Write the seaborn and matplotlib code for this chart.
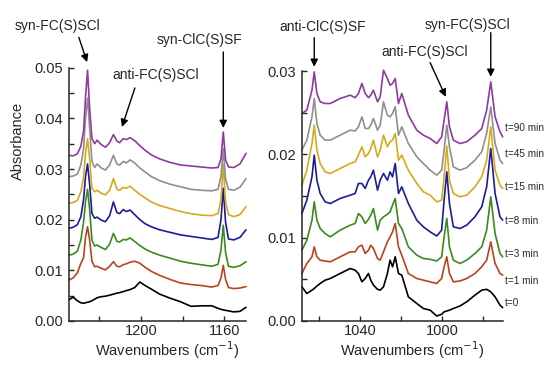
import numpy as np
import pandas as pd
import seaborn as sns
import matplotlib.pyplot as plt
from matplotlib.ticker import MultipleLocator, FormatStrFormatter

sns.set_style("ticks")
plt.rcParams['font.family'] = ['Liberation Sans', 'DejaVu Sans']

# time labels and colours (t=0 drawn first, t=90 on top)
times = ['t=0', 't=1 min', 't=3 min', 't=8 min', 't=15 min', 't=45 min', 't=90 min']
colors = ['#000000', '#b8441e', '#3a8a1f', '#1c1c9a', '#d6aa1e', '#8f8f8f', '#8e3aa0']

# ---- left panel: 1235 - 1150 cm-1
wn_left = [1234.5, 1232.5, 1230.5, 1228.8, 1227.5, 1226.6, 1225.6, 1224.6, 1223.5, 1222.2,
           1221.0, 1219.0, 1217.0, 1215.0, 1213.2, 1211.5, 1210.2, 1208.5, 1207.0, 1205.2,
           1203.0, 1200.5, 1198.0, 1195.0, 1191.0, 1186.0, 1181.0, 1176.0, 1171.0, 1166.0,
           1163.0, 1161.6, 1160.5, 1159.4, 1158.0, 1155.5, 1152.5, 1149.6]

left_t0 = [0.0042, 0.0047, 0.0040, 0.0036, 0.0035, 0.0036, 0.0037, 0.0038, 0.0040, 0.0043,
           0.0046, 0.0048, 0.0049, 0.0051, 0.0053, 0.0055, 0.0056, 0.0058, 0.0060, 0.0062,
           0.0066, 0.0077, 0.0070, 0.0063, 0.0053, 0.0045, 0.0038, 0.0029, 0.0030, 0.0030,
           0.0025, 0.0023, 0.0022, 0.0021, 0.0020, 0.0018, 0.0019, 0.0027]
left_t1 = [0.0081, 0.0085, 0.0095, 0.0114, 0.0125, 0.0165, 0.0186, 0.0160, 0.0118, 0.0107,
           0.0108, 0.0104, 0.0101, 0.0108, 0.0117, 0.0108, 0.0107, 0.0111, 0.0113, 0.0116,
           0.0118, 0.0114, 0.0106, 0.0098, 0.0090, 0.0082, 0.0075, 0.0072, 0.0070, 0.0067,
           0.0070, 0.0085, 0.0110, 0.0082, 0.0066, 0.0064, 0.0065, 0.0068]
left_t3 = [0.0130, 0.0132, 0.0138, 0.0160, 0.0195, 0.0235, 0.0260, 0.0220, 0.0160, 0.0148,
           0.0150, 0.0145, 0.0141, 0.0152, 0.0173, 0.0157, 0.0156, 0.0161, 0.0160, 0.0164,
           0.0157, 0.0149, 0.0142, 0.0136, 0.0130, 0.0124, 0.0118, 0.0114, 0.0111, 0.0108,
           0.0112, 0.0140, 0.0189, 0.0135, 0.0108, 0.0106, 0.0109, 0.0117]
left_t8 = [0.0183, 0.0185, 0.0190, 0.0206, 0.0240, 0.0285, 0.0310, 0.0270, 0.0212, 0.0203,
           0.0205, 0.0199, 0.0196, 0.0208, 0.0235, 0.0214, 0.0212, 0.0220, 0.0216, 0.0219,
           0.0210, 0.0200, 0.0192, 0.0186, 0.0180, 0.0175, 0.0170, 0.0167, 0.0164, 0.0161,
           0.0165, 0.0200, 0.0262, 0.0195, 0.0162, 0.0160, 0.0165, 0.0180]
left_t15 = [0.0232, 0.0234, 0.0238, 0.0255, 0.0285, 0.0330, 0.0360, 0.0320, 0.0262, 0.0255,
            0.0258, 0.0252, 0.0249, 0.0258, 0.0281, 0.0260, 0.0258, 0.0264, 0.0262, 0.0266,
            0.0258, 0.0250, 0.0243, 0.0235, 0.0228, 0.0222, 0.0216, 0.0212, 0.0209, 0.0208,
            0.0212, 0.0240, 0.0310, 0.0235, 0.0210, 0.0206, 0.0210, 0.0226]
left_t45 = [0.0285, 0.0286, 0.0290, 0.0308, 0.0340, 0.0400, 0.0440, 0.0380, 0.0315, 0.0303,
            0.0310, 0.0302, 0.0298, 0.0308, 0.0327, 0.0310, 0.0308, 0.0315, 0.0312, 0.0318,
            0.0312, 0.0302, 0.0294, 0.0285, 0.0277, 0.0270, 0.0265, 0.0260, 0.0258, 0.0257,
            0.0260, 0.0285, 0.0340, 0.0280, 0.0260, 0.0258, 0.0264, 0.0281]
left_t90 = [0.0327, 0.0326, 0.0330, 0.0345, 0.0375, 0.0440, 0.0495, 0.0420, 0.0360, 0.0350,
            0.0357, 0.0348, 0.0343, 0.0352, 0.0368, 0.0355, 0.0352, 0.0360, 0.0358, 0.0362,
            0.0356, 0.0346, 0.0337, 0.0328, 0.0320, 0.0313, 0.0308, 0.0306, 0.0304, 0.0302,
            0.0303, 0.0320, 0.0373, 0.0318, 0.0304, 0.0303, 0.0310, 0.0331]

# ---- right panel: 1068 - 970 cm-1
wn_right = [1068.2, 1065.8, 1063.3, 1062.2, 1060.9, 1059.3, 1056.9, 1054.4, 1049.6, 1044.7,
            1042.3, 1040.7, 1039.0, 1037.4, 1035.8, 1034.7, 1033.4, 1031.4, 1030.1, 1028.5,
            1026.6, 1025.3, 1024.1, 1022.8, 1021.2, 1019.6, 1016.4, 1012.3, 1009.1, 1005.8,
            1002.6, 1000.2, 999.0, 997.7, 996.4, 994.5, 991.3, 988.0, 984.0, 980.7,
            978.3, 976.3, 974.2, 971.8, 970.5]

right_t0 = [0.0041, 0.0033, 0.0037, 0.0039, 0.0042, 0.0045, 0.0049, 0.0051, 0.0057, 0.0063,
            0.0061, 0.0057, 0.0047, 0.0051, 0.0057, 0.0049, 0.0043, 0.0038, 0.0037, 0.0041,
            0.0057, 0.0073, 0.0065, 0.0077, 0.0057, 0.0055, 0.0029, 0.0021, 0.0015, 0.0013,
            0.0006, 0.0008, 0.0011, 0.0012, 0.0013, 0.0015, 0.0018, 0.0023, 0.0031, 0.0037,
            0.0038, 0.0035, 0.0029, 0.0019, 0.0016]
right_t1 = [0.0057, 0.0069, 0.0077, 0.0089, 0.0077, 0.0073, 0.0072, 0.0071, 0.0077, 0.0083,
            0.0083, 0.0089, 0.0091, 0.0081, 0.0085, 0.0091, 0.0087, 0.0075, 0.0073, 0.0083,
            0.0095, 0.0101, 0.0107, 0.0117, 0.0089, 0.0079, 0.0057, 0.0051, 0.0049, 0.0047,
            0.0045, 0.0051, 0.0065, 0.0077, 0.0057, 0.0047, 0.0048, 0.0051, 0.0057, 0.0065,
            0.0073, 0.0095, 0.0069, 0.0057, 0.0055]
right_t3 = [0.0085, 0.0097, 0.0121, 0.0143, 0.0121, 0.0111, 0.0105, 0.0101, 0.0109, 0.0115,
            0.0117, 0.0129, 0.0125, 0.0117, 0.0122, 0.0127, 0.0135, 0.0109, 0.0121, 0.0125,
            0.0128, 0.0131, 0.0139, 0.0147, 0.0117, 0.0111, 0.0089, 0.0079, 0.0075, 0.0074,
            0.0072, 0.0077, 0.0101, 0.0123, 0.0089, 0.0073, 0.0069, 0.0073, 0.0081, 0.0089,
            0.0109, 0.0149, 0.0105, 0.0081, 0.0077]
right_t8 = [0.0129, 0.0145, 0.0173, 0.0199, 0.0169, 0.0153, 0.0143, 0.0141, 0.0147, 0.0151,
            0.0153, 0.0165, 0.0165, 0.0159, 0.0169, 0.0173, 0.0181, 0.0157, 0.0169, 0.0177,
            0.0169, 0.0179, 0.0173, 0.0189, 0.0153, 0.0161, 0.0141, 0.0121, 0.0113, 0.0107,
            0.0102, 0.0109, 0.0145, 0.0179, 0.0141, 0.0113, 0.0111, 0.0115, 0.0125, 0.0137,
            0.0161, 0.0207, 0.0153, 0.0125, 0.0121]
right_t15 = [0.0163, 0.0181, 0.0213, 0.0235, 0.0205, 0.0189, 0.0179, 0.0177, 0.0183, 0.0189,
             0.0191, 0.0199, 0.0209, 0.0197, 0.0201, 0.0207, 0.0217, 0.0197, 0.0205, 0.0223,
             0.0209, 0.0215, 0.0217, 0.0225, 0.0193, 0.0199, 0.0181, 0.0165, 0.0155, 0.0151,
             0.0143, 0.0145, 0.0173, 0.0210, 0.0169, 0.0153, 0.0149, 0.0151, 0.0161, 0.0173,
             0.0193, 0.0233, 0.0181, 0.0163, 0.0159]
right_t45 = [0.0205, 0.0217, 0.0245, 0.0267, 0.0237, 0.0223, 0.0217, 0.0217, 0.0223, 0.0229,
             0.0228, 0.0233, 0.0245, 0.0231, 0.0231, 0.0235, 0.0243, 0.0229, 0.0235, 0.0263,
             0.0247, 0.0245, 0.0249, 0.0257, 0.0223, 0.0233, 0.0213, 0.0197, 0.0189, 0.0181,
             0.0175, 0.0181, 0.0205, 0.0235, 0.0209, 0.0185, 0.0181, 0.0184, 0.0193, 0.0203,
             0.0225, 0.0257, 0.0213, 0.0193, 0.0189]
right_t90 = [0.0249, 0.0253, 0.0277, 0.0299, 0.0273, 0.0263, 0.0261, 0.0261, 0.0267, 0.0271,
             0.0268, 0.0273, 0.0285, 0.0273, 0.0268, 0.0271, 0.0277, 0.0263, 0.0269, 0.0301,
             0.0291, 0.0283, 0.0285, 0.0291, 0.0261, 0.0273, 0.0247, 0.0229, 0.0223, 0.0219,
             0.0213, 0.0221, 0.0241, 0.0263, 0.0233, 0.0217, 0.0213, 0.0215, 0.0223, 0.0231,
             0.0253, 0.0287, 0.0245, 0.0227, 0.0221]


def make_frame(wn, series):
    parts = []
    for name, vals in zip(times, series):
        parts.append(pd.DataFrame({'wn': wn, 'A': vals, 'time': name}))
    return pd.concat(parts, ignore_index=True)


df_left = make_frame(wn_left, [left_t0, left_t1, left_t3, left_t8, left_t15, left_t45, left_t90])
df_right = make_frame(wn_right, [right_t0, right_t1, right_t3, right_t8, right_t15, right_t45, right_t90])

W, H = 550, 365
fig = plt.figure(figsize=(5.5, 3.65), dpi=100)
ax1 = fig.add_axes([69 / W, 1 - 321 / H, 177 / W, 253.3 / H])
ax2 = fig.add_axes([301.7 / W, 1 - 321 / H, 201.6 / W, 250 / H])

for ax, df in [(ax1, df_left), (ax2, df_right)]:
    sns.lineplot(data=df, x='wn', y='A', hue='time', hue_order=times, palette=colors,
                 estimator=None, sort=False, lw=1.2, legend=False, ax=ax)
    for ln in ax.lines:
        ln.set_clip_on(False)
    sns.despine(ax=ax)
    ax.set_xlabel('Wavenumbers (cm$^{-1}$)', fontsize=10.5)
    ax.xaxis.set_major_locator(MultipleLocator(40))
    ax.xaxis.set_minor_locator(MultipleLocator(20))
    ax.yaxis.set_major_locator(MultipleLocator(0.01))
    ax.yaxis.set_minor_locator(MultipleLocator(0.005))
    ax.yaxis.set_major_formatter(FormatStrFormatter('%.2f'))
    ax.tick_params(which='both', direction='in', length=3.5, width=1, labelsize=10.5)
    ax.tick_params(axis='y', pad=4)
    ax.tick_params(axis='x', pad=2.5)
    for sp in ax.spines.values():
        sp.set_linewidth(1.1)

ax1.set_xlim(1234.5, 1149.6)
ax1.set_ylim(0, 0.05)
ax1.set_ylabel('Absorbance', fontsize=10.5)
ax1.yaxis.set_label_coords(-0.25, 0.711)
ax1.xaxis.set_label_coords(0.554, -0.073)

ax2.set_xlim(1068.3, 970.2)
ax2.set_ylim(0, 0.03)
ax2.set_ylabel('')
ax2.xaxis.set_label_coords(0.547, -0.074)

arrow = dict(arrowstyle='-|>', color='black', lw=1.0, mutation_scale=11, shrinkA=0, shrinkB=0)


def label(ax, text, txy, tail, head):
    ax.text(txy[0], txy[1], text, fontsize=10, ha='center', va='center', clip_on=False)
    ax.annotate('', xy=head, xytext=tail, arrowprops=arrow, annotation_clip=False)


label(ax1, 'syn-FC(S)SCl', (1240.0, 0.0583), (1229.8, 0.0560), (1225.8, 0.0511))
label(ax1, 'anti-FC(S)SCl', (1192.8, 0.0485), (1202.9, 0.0460), (1209.1, 0.0383))
label(ax1, 'syn-ClC(S)SF', (1172.0, 0.0554), (1160.5, 0.0531), (1160.5, 0.0381))

label(ax2, 'anti-ClC(S)SF', (1058.1, 0.0353), (1062.2, 0.0340), (1062.2, 0.0305))
label(ax2, 'syn-FC(S)SCl', (987.4, 0.0355), (976.3, 0.0346), (976.3, 0.0293))
label(ax2, 'anti-FC(S)SCl', (1008.3, 0.0323), (1005.8, 0.0310), (998.2, 0.0269))

# time labels at the right end of the right panel
t_pos = [0.0022, 0.0048, 0.0080, 0.0120, 0.0161, 0.0200, 0.0232]
for name, y in zip(times, t_pos):
    ax2.text(969.4, y, name, fontsize=7.2, ha='left', va='center', clip_on=False)

fig.savefig('out.png', dpi=100)
